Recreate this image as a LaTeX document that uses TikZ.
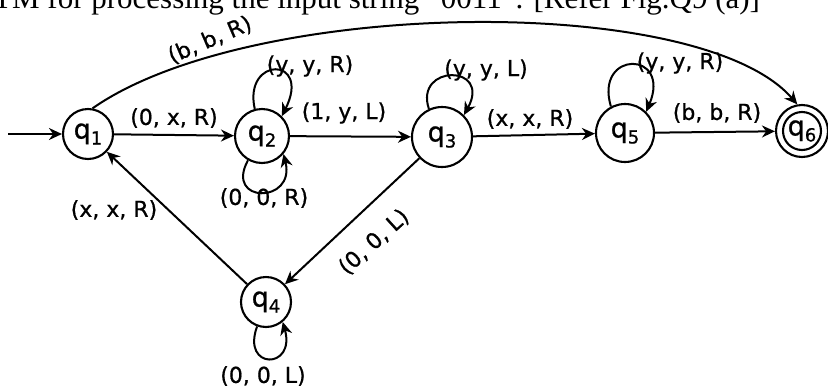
\documentclass[tikz,border=0pt]{standalone}
\usepackage{fontspec}
\setmainfont{DejaVu Sans}
\newfontfamily\labfont[FakeBold=0.8]{DejaVu Sans}
\newfontfamily\serifhead{Liberation Serif}
\usetikzlibrary{arrows.meta}
\newcommand\qq[1]{q{\fontsize{18}{18}\selectfont\raisebox{-6pt}{#1}}}
\begin{document}
\begin{tikzpicture}[x=1pt,y=1pt,
  state/.style={circle,draw,line width=2.1pt,inner sep=0pt,font=\labfont\fontsize{27}{27}\selectfont},
  tr/.style={line width=2pt,-{Stealth[length=13pt,width=12pt]}},
  lab/.style={font=\labfont\fontsize{22}{22}\selectfont,inner sep=1pt},
]
\useasboundingbox (0,0) rectangle (828,-389);
\fill[white] (0,0) rectangle (828,-389);

% heading line, cut off at the top
\node[anchor=base west,inner sep=0pt,font=\serifhead\fontsize{31}{31}\selectfont] (head) at (-7,-8)
  {TM for processing the input string “0011”. [Refer Fig.Q9 (a)]};

% states
\node[state,minimum size=50] (q1) at (88,-134) {\qq{1}};
\node[state,minimum size=54] (q2) at (262,-136) {\qq{2}};
\node[state,minimum size=60] (q3) at (442,-137) {\qq{3}};
\node[state,minimum size=58] (q5) at (625,-133) {\qq{5}};
\node[state,minimum size=52] (q6) at (802,-131) {\qq{6}};
\draw[line width=2.1pt] (q6.center) circle (19);
\node[state,minimum size=50] (q4) at (266,-302) {\qq{4}};

% start arrow
\coordinate (s) at (8,-134);
\draw[tr] (s) -- (q1);

% transitions
\draw[tr] (q1) -- (q2);
\draw[tr] (q2) -- (q3);
\draw[tr] (q3) -- (q5);
\draw[tr] (q5) -- (q6);
\draw[tr] (q3) -- (q4);
\draw[tr] (q4) -- (q1);
\draw[tr] (q1.80) .. controls (250,2) and (700,8) .. (q6.100);

% loops
\draw[tr] (q2.105) .. controls (243,-56) and (312,-56) .. (q2.45);
\draw[tr] (q2.240) .. controls (224,-204) and (296,-204) .. (q2.-40);
\draw[tr] (q3.115) .. controls (414,-64) and (492,-64) .. (q3.45);
\draw[tr] (q5.118) .. controls (594,-50) and (672,-50) .. (q5.45);
\draw[tr] (q4.250) .. controls (241,-370) and (296,-370) .. (q4.-50);

% labels
\node[lab] (l12) at (174,-118) {(0, x, R)};
\node[lab] (l22a) at (310,-66) {(y, y, R)};
\node[lab] (l23) at (344,-113) {(1, y, L)};
\node[lab] (l22b) at (264,-198) {(0, 0, R)};
\node[lab] (l33) at (486,-70) {(y, y, L)};
\node[lab] (l35) at (530,-119) {(x, x, R)};
\node[lab] (l55) at (680,-63) {(y, y, R)};
\node[lab] (l56) at (717,-113) {(b, b, R)};
\node[lab,rotate=23] (l16) at (210,-40) {(b, b, R)};
\node[lab] (l41) at (114,-210) {(x, x, R)};
\node[lab,rotate=42] (l34) at (374,-242) {(0, 0, L)};
\node[lab] (l44) at (263,-376) {(0, 0, L)};
\end{tikzpicture}
\end{document}
